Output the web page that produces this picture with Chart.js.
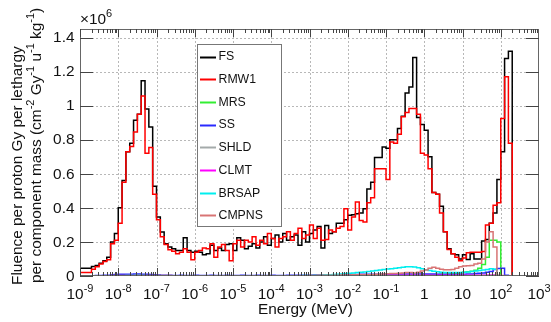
<!DOCTYPE html>
<html><head><meta charset="utf-8">
<script src="https://cdn.jsdelivr.net/npm/chart.js@4.4.1/dist/chart.umd.min.js"></script>
<style>html,body{margin:0;padding:0;background:#fff;overflow:hidden}canvas{display:block}</style>
</head><body>
<canvas id="c" width="551" height="322"></canvas>
<script>
// ---- binning (log10 of energy in MeV): first wide bin, then 0.1-decade bins up to 10^2.4
const binLogEdges = [-9];
for (let k = 0; k <= 111; k++) binLogEdges.push(Math.round((-8.7 + 0.1 * k) * 10) / 10);

// ---- series values (units of 1e6)
const fs = [
0.085,
0.045,0.056,0.062,0.075,0.090,0.110,
0.200,0.250,0.400,0.560,0.730,0.780,0.915,0.950,1.146,0.980,0.875,0.527,0.346,0.258,0.190,0.170,
0.160,0.150,0.150,0.225,0.150,0.140,0.145,0.140,0.125,0.130,0.180,0.150,0.165,0.150,0.185,0.190,0.150,0.225,0.210,0.160,0.175,0.190,0.165,0.200,0.230,0.180,0.220,0.240,0.200,0.250,0.210,0.230,0.240,0.180,0.260,0.200,0.250,0.270,
0.290,0.165,0.297,0.250,0.260,0.310,0.310,0.330,0.356,0.360,0.366,0.370,0.395,0.510,0.550,0.695,0.695,0.758,0.750,0.800,0.800,0.866,0.938,1.075,1.110,1.283,0.930,0.890,0.856,0.700,0.490,0.480,0.410,0.260,0.160,0.130,0.125,0.100,0.125,0.097,0.130,0.100,0.100,0.205,0.215,0.310,0.370,0.566,0.730,1.277,1.320
];
const rmw1 = [
0.072,
0.020,0.040,0.055,0.070,0.085,0.095,
0.190,0.210,0.310,0.550,0.730,0.760,0.846,0.950,1.056,0.720,0.754,0.480,0.330,0.230,0.185,0.154,
0.145,0.130,0.140,0.160,0.140,0.095,0.140,0.150,0.165,0.160,0.190,0.110,0.170,0.185,0.150,0.090,0.190,0.210,0.170,0.210,0.200,0.230,0.180,0.210,0.190,0.250,0.220,0.170,0.220,0.230,0.260,0.210,0.250,0.280,0.220,0.240,0.300,0.220,
0.280,0.210,0.215,0.270,0.260,0.280,0.290,0.395,0.270,0.346,0.434,0.326,0.317,0.430,0.460,0.630,0.630,0.630,0.566,0.787,0.780,0.832,0.935,0.960,0.983,0.983,0.950,0.720,0.710,0.630,0.490,0.480,0.370,0.260,0.156,0.130,0.110,0.090,0.105,0.136,0.140,0.140,0.140,0.144,0.300,0.310,0.415,0.430,0.925,1.170,0.780
];
const mrs = [
0.001,
0.001,0.001,0.001,0.001,0.001,0.001,
0.003,0.003,0.004,0.004,0.005,0.005,0.005,0.005,0.005,0.004,0.004,0.003,0.003,0.002,0.002,0.002,
0.002,0.002,0.002,0.002,0.002,0.002,0.002,0.002,0.002,0.002,0.002,0.002,0.002,0.002,0.002,0.002,0.002,0.002,0.002,0.002,0.002,0.002,0.002,0.002,0.002,0.002,0.002,0.002,0.002,0.002,0.002,0.002,0.002,0.002,0.002,0.002,
0.003,0.003,0.003,0.003,0.003,0.003,0.003,0.003,0.003,0.003,0.004,0.004,0.004,0.004,0.004,0.004,0.004,0.004,0.004,0.004,0.005,0.005,0.005,0.005,0.005,0.005,0.005,0.005,0.005,0.005,
0.006,0.007,0.008,0.009,0.010,0.011,
0.012,0.014,0.016,0.019,0.022,0.025,0.028,0.034,0.045,0.068,0.110,0.210,0.210,0.200,0.002
];
const ss = [
0.002,
0.002,0.002,0.003,0.003,0.004,0.005,
0.008,0.009,0.010,0.010,0.011,0.011,0.012,0.012,0.011,0.010,0.009,0.008,0.006,0.005,0.004,0.004,
0.003,0.003,0.004,0.003,0.003,0.003,0.004,0.003,0.003,0.003,0.004,0.003,0.003,0.003,0.004,0.003,0.003,0.003,0.004,0.003,0.003,0.003,0.004,0.003,0.003,0.003,0.004,0.003,0.003,0.003,0.004,0.004,0.004,0.005,0.005,0.005,0.005,0.006,
0.006,0.006,0.007,0.007,0.007,0.008,0.008,0.008,0.009,0.009,0.009,0.010,0.010,0.010,0.010,0.011,0.011,0.011,0.011,0.012,0.012,0.012,0.012,0.012,0.012,0.012,0.012,0.012,0.012,0.012,0.012,0.011,0.011,0.011,0.011,0.011,0.011,0.011,0.011,0.012,0.012,0.014,0.016,0.018,0.022,0.026,0.038,0.044,0.046,0.004,0.002
];
const shld = [
0.001,
0.001,0.001,0.001,0.001,0.001,0.001,
0.002,0.002,0.002,0.002,0.002,0.002,0.002,0.002,0.002,0.002,0.002,0.002,0.001,0.001,0.001,0.001,
0.001,0.001,0.001,0.001,0.001,0.001,0.001,0.001,0.001,0.001,0.001,0.001,0.001,0.001,0.001,0.001,0.001,0.001,0.001,0.001,0.001,0.001,0.001,0.001,0.001,0.001,0.001,0.001,0.001,0.001,0.001,0.001,0.001,0.001,0.001,0.001,
0.002,0.002,0.002,0.002,0.002,0.002,0.002,0.002,0.002,0.002,0.002,0.002,0.002,0.002,0.002,0.002,0.002,0.002,0.002,0.002,0.002,0.002,0.002,0.002,0.002,0.002,0.002,0.002,0.002,0.002,0.002,0.002,0.002,0.002,0.002,0.002,0.002,0.002,0.003,0.003,0.003,0.003,0.003,0.004,0.004,0.004,0.005,0.006,0.006,0.001,0.001
];
const clmt = [
0.002,
0.002,0.002,0.002,0.002,0.002,0.002,
0.002,0.002,0.002,0.002,0.002,0.002,0.002,0.002,0.002,0.002,0.002,0.002,0.002,0.002,0.002,0.002,
0.002,0.002,0.002,0.002,0.002,0.002,0.002,0.002,0.002,0.002,0.002,0.002,0.002,0.002,0.002,0.002,0.002,0.002,0.002,0.002,0.002,0.002,0.002,0.002,0.002,0.002,0.002,0.002,0.002,0.002,0.002,0.002,0.002,0.002,0.002,0.002,
0.003,0.003,0.003,0.003,0.003,0.003,0.003,0.003,0.003,0.003,0.003,0.003,0.003,0.003,0.003,0.003,0.003,0.004,0.004,0.004,0.004,0.004,0.004,0.004,0.004,0.004,0.004,0.004,0.004,0.004,0.004,0.004,0.004,0.004,0.004,0.004,0.004,0.004,0.004,0.004,0.004,0.004,0.004,0.005,0.005,0.005,0.005,0.005,0.005,0.002,0.001
];
const brsap = [
0.001,
0.001,0.001,0.001,0.001,0.001,0.001,
0.002,0.002,0.002,0.002,0.003,0.003,0.003,0.003,0.003,0.002,0.002,0.002,0.002,0.002,0.001,0.001,
0.001,0.001,0.001,0.001,0.001,0.001,0.001,0.001,0.001,0.001,0.001,0.001,0.001,0.001,0.001,0.001,0.001,0.001,0.001,0.001,0.001,0.001,0.001,0.001,0.001,0.001,0.001,0.001,0.001,0.002,0.002,0.002,0.002,0.002,0.003,0.003,
0.003,0.004,0.005,0.006,0.007,0.008,0.009,0.011,0.012,0.014,0.016,0.018,0.020,0.022,0.024,0.027,0.030,0.032,0.035,0.038,0.041,0.043,0.046,0.049,0.051,0.054,0.055,0.053,0.048,0.043,0.037,0.032,0.028,0.025,0.022,0.021,0.020,0.020,0.020,0.021,0.022,0.024,0.026,0.029,0.032,0.035,0.038,0.042,0.040,0.003,0.001
];
const cmpns = [
0.002,
0.002,0.002,0.002,0.002,0.002,0.002,
0.003,0.003,0.003,0.003,0.003,0.003,0.003,0.003,0.003,0.003,0.003,0.003,0.003,0.003,0.003,0.003,
0.002,0.002,0.002,0.002,0.002,0.002,0.002,0.002,0.002,0.002,0.002,0.002,0.002,0.002,0.002,0.002,0.002,0.002,0.002,0.002,0.002,0.002,0.002,0.002,0.002,0.002,0.002,0.002,0.002,0.002,0.002,0.002,0.002,0.002,0.002,0.002,
0.003,0.003,0.004,0.004,0.004,0.005,0.005,0.005,0.006,0.006,0.006,0.007,0.007,0.007,0.008,0.008,
0.008,0.010,0.011,0.012,0.013,0.014,0.015,0.016,0.018,0.020,0.020,0.018,0.022,0.030,0.035,0.045,0.052,0.045,0.040,0.036,0.036,0.038,0.045,0.055,0.058,0.060,0.062,0.070,0.075,0.100,0.200,0.260,0.170,0.004,0.003
];

const seriesNames  = ['FS','RMW1','MRS','SS','SHLD','CLMT','BRSAP','CMPNS'];
const seriesValues = [fs, rmw1, mrs, ss, shld, clmt, brsap, cmpns];
const seriesColors = ['#000000','#ff0000','#33ee33','#2a2aff','#a4aaaa','#ff00ff','#00eeee','#d87474'];

// ---- axis ticks / labels
const xTickExps   = [-9,-8,-7,-6,-5,-4,-3,-2,-1,0,1,2,3];
const yTickValues = [0,0.2,0.4,0.6,0.8,1.0,1.2,1.4];
const yTickLabels = ['0','0.2','0.4','0.6','0.8','1','1.2','1.4'];
const xTitle = 'Energy (MeV)';
const yTitle1 = 'Fluence per proton Gy per lethargy';
const yTitle2 = [['per component mass (cm',false],['-2',true],[' Gy',false],['-1',true],[' u',false],['-1',true],[' kg',false],['-1',true],[')',false]];
const yMultiplier = ['\u00d710','6'];

const FONT = '"Liberation Sans", Arimo, Arial, sans-serif';
const f = s => s + 'px ' + FONT;
const BIG = 15.4, SUP = 11;

function toSteps(vals) {
  const pts = vals.map((v, j) => ({ x: Math.pow(10, binLogEdges[j]), y: v }));
  pts.push({ x: Math.pow(10, binLogEdges[binLogEdges.length - 1]), y: 0 });
  pts.push({ x: 1e3, y: 0 });
  return pts;
}

function drawRich(ctx, parts, x, y) {
  let cx = x;
  for (const [t, sup] of parts) {
    ctx.font = f(sup ? SUP : BIG);
    ctx.fillText(t, cx, sup ? y - 7 : y);
    cx += ctx.measureText(t).width;
  }
  return cx - x;
}

const rootPlugin = {
  id: 'rootStyle',
  beforeDatasetsDraw(chart) {
    const { ctx, chartArea: a, scales: { x, y } } = chart;
    ctx.save();
    ctx.strokeStyle = '#b8b8b8'; ctx.lineWidth = 1; ctx.setLineDash([2, 2]);
    ctx.beginPath();
    for (const e of xTickExps) {
      if (e <= -9 || e >= 3) continue;
      const px = Math.round(x.getPixelForValue(Math.pow(10, e))) + 0.5;
      ctx.moveTo(px, a.top); ctx.lineTo(px, a.bottom);
    }
    for (const v of yTickValues) {
      if (v <= 0) continue;
      const py = Math.round(y.getPixelForValue(v)) + 0.5;
      ctx.moveTo(a.left, py); ctx.lineTo(a.right, py);
    }
    ctx.stroke();
    ctx.restore();
  },
  afterDatasetsDraw(chart) {
    const { ctx, chartArea: a, scales: { x, y } } = chart;
    ctx.save();
    // frame
    ctx.strokeStyle = '#666'; ctx.lineWidth = 1;
    ctx.strokeRect(Math.round(a.left) + 0.5, Math.round(a.top) + 0.5, Math.round(a.right - a.left) - 1, Math.round(a.bottom - a.top) - 1);
    // x ticks (bottom & top, inward)
    ctx.strokeStyle = '#444'; ctx.beginPath();
    for (let n = -9; n <= 2; n++) {
      for (let k = 1; k <= 9; k++) {
        const v = k * Math.pow(10, n);
        const px = Math.round(x.getPixelForValue(v)) + 0.5;
        const len = k === 1 ? 8 : 4;
        ctx.moveTo(px, a.bottom); ctx.lineTo(px, a.bottom - len);
        ctx.moveTo(px, a.top); ctx.lineTo(px, a.top + len);
      }
    }
    // y ticks (left & right, inward)
    for (const v of yTickValues) {
      const py = Math.round(y.getPixelForValue(v)) + 0.5;
      ctx.moveTo(a.left, py); ctx.lineTo(a.left + 13, py);
      ctx.moveTo(a.right, py); ctx.lineTo(a.right - 13, py);
    }
    ctx.stroke();

    ctx.fillStyle = '#111';
    // y tick labels
    ctx.font = f(BIG); ctx.textAlign = 'right'; ctx.textBaseline = 'middle';
    yTickValues.forEach((v, i) => ctx.fillText(yTickLabels[i], a.left - 5.5, y.getPixelForValue(v) + 0.5));
    // x tick labels
    ctx.textBaseline = 'alphabetic'; ctx.textAlign = 'left';
    const baseY = 298.5;
    for (const e of xTickExps) {
      const cx = x.getPixelForValue(Math.pow(10, e));
      let parts;
      if (e === 0) parts = [['1', false]];
      else if (e === 1) parts = [['10', false]];
      else parts = [['10', false], [String(e), true]];
      let w = 0;
      for (const [t, sup] of parts) { ctx.font = f(sup ? SUP : BIG); w += ctx.measureText(t).width; }
      drawRich(ctx, parts, cx - w / 2, baseY);
    }
    // multiplier
    drawRich(ctx, [[yMultiplier[0], false], [yMultiplier[1], true]], a.left, 24);
    // x title
    ctx.font = f(BIG); ctx.textAlign = 'center';
    ctx.fillText(xTitle, 305.5, 314);
    // y title
    ctx.textAlign = 'left';
    ctx.save(); ctx.translate(21.5, 285); ctx.rotate(-Math.PI / 2);
    ctx.font = f(BIG); ctx.fillText(yTitle1, 0, 0); ctx.restore();
    ctx.save(); ctx.translate(40.5, 283); ctx.rotate(-Math.PI / 2);
    drawRich(ctx, yTitle2, 0, 0); ctx.restore();

    // legend
    const L = { x: 197, y: 44, w: 84, h: 182 };
    ctx.fillStyle = '#fff'; ctx.fillRect(L.x, L.y, L.w, L.h);
    ctx.strokeStyle = '#777'; ctx.lineWidth = 1;
    ctx.strokeRect(L.x + 0.5, L.y + 0.5, L.w, L.h);
    ctx.font = f(12.3); ctx.textBaseline = 'middle'; ctx.textAlign = 'left';
    seriesNames.forEach((name, i) => {
      const yy = 56.5 + i * 22.7;
      ctx.strokeStyle = seriesColors[i]; ctx.lineWidth = 2;
      ctx.beginPath(); ctx.moveTo(200, Math.round(yy) + 0.5); ctx.lineTo(216, Math.round(yy) + 0.5); ctx.stroke();
      ctx.fillStyle = '#111'; ctx.fillText(name, 218.5, yy + 0.5);
    });
    ctx.restore();
  }
};

new Chart(document.getElementById('c'), {
  type: 'line',
  data: {
    datasets: seriesNames.map((name, i) => ({
      label: name,
      data: toSteps(seriesValues[i]),
      borderColor: seriesColors[i],
      borderWidth: 1.5,
      pointRadius: 0,
      stepped: 'after',
      fill: false,
      borderJoinStyle: 'miter',
      order: seriesNames.length - i
    }))
  },
  options: {
    responsive: false, animation: false, devicePixelRatio: 1, events: [],
    layout: { padding: { left: 80, right: 12, top: 29, bottom: 46 } },
    plugins: { legend: { display: false }, tooltip: { enabled: false } },
    scales: {
      x: { type: 'logarithmic', min: 1e-9, max: 1e3, display: false },
      y: { type: 'linear', min: 0, max: 1.45, display: false }
    }
  },
  plugins: [rootPlugin]
});
</script>
</body></html>
